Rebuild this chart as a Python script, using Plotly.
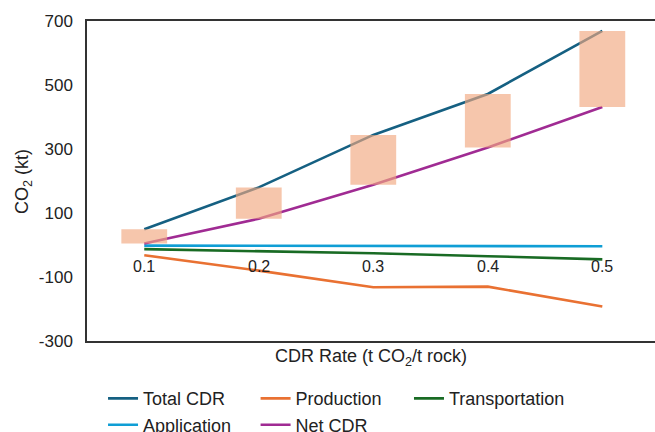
import plotly.graph_objects as go

categories = ["0.1", "0.2", "0.3", "0.4", "0.5"]
total_cdr = [49, 180, 344, 472, 669]
production = [-32, -80, -132, -130, -192]
transportation = [-13, -19, -26, -35, -45]
application = [-2, -3, -3, -4, -4]
net_cdr = [5, 82, 188, 305, 431]

y_ticks = [-300, -100, 100, 300, 500, 700]
y_tick_labels = ["-300", "-100", "100", "300", "500", "700"]

FONT = "Liberation Sans, Arial, sans-serif"
XR = [-0.5, 4.46]
YR = [-300, 700]

fig = go.Figure()

# (name, values, colour, legend column)
series = [
    ("Total CDR", total_cdr, "#156082", "legend"),
    ("Production", production, "#E97132", "legend2"),
    ("Transportation", transportation, "#196B24", "legend3"),
    ("Application", application, "#0F9ED5", "legend"),
    ("Net CDR", net_cdr, "#A02B93", "legend2"),
]
for name, vals, col, lg in series:
    fig.add_trace(go.Scatter(x=categories, y=vals, name=name, mode="lines",
                             line=dict(color=col, width=2.6), xaxis="x", yaxis="y",
                             legend=lg))

# floating range bars (Net CDR -> Total CDR), drawn on overlay axes so they sit above the lines
fig.add_trace(go.Bar(x=categories, base=net_cdr,
                     y=[t - n for t, n in zip(total_cdr, net_cdr)],
                     width=0.4, marker=dict(color="rgba(241,168,128,0.65)", line=dict(width=0)),
                     showlegend=False, xaxis="x2", yaxis="y2", hoverinfo="skip"))

# category labels sitting at the zero line
for i, c in enumerate(categories):
    fig.add_annotation(x=i, y=0, xref="x", yref="y", text=c, showarrow=False,
                       yshift=-21, font=dict(family=FONT, size=16, color="#222"))

fig.add_annotation(x=-0.1127, y=0.5, xref="paper", yref="paper", xanchor="center",
                   yanchor="middle",
                   text="CO<sub>2</sub> (kt)", textangle=-90, showarrow=False,
                   font=dict(family=FONT, size=18, color="#222"))

def legend_col(xpos):
    return dict(orientation="v", xref="container", yref="container",
                x=xpos, xanchor="left", y=0.12, yanchor="top",
                font=dict(family=FONT, size=18, color="#222"),
                traceorder="normal", bgcolor="rgba(0,0,0,0)")

fig.update_layout(
    width=655, height=432,
    margin=dict(l=87, r=0, t=21, b=91, autoexpand=False),
    paper_bgcolor="white", plot_bgcolor="white",
    font=dict(family=FONT, color="#222"),
    showlegend=True,
    legend=legend_col(0.1573),
    legend2=legend_col(0.3902),
    legend3=legend_col(0.6244),
    xaxis=dict(type="category", range=XR, showgrid=False, zeroline=False,
               showticklabels=False, ticks="", showline=True, linecolor="#333",
               linewidth=1.5, mirror=True,
               title=dict(text="CDR Rate (t CO<sub>2</sub>/t rock)",
                          font=dict(family=FONT, size=18, color="#222"), standoff=8)),
    yaxis=dict(range=YR, tickvals=y_ticks, ticktext=y_tick_labels, showgrid=False,
               zeroline=False, showline=True, linecolor="#333", linewidth=1.5,
               ticks="outside", ticklen=9, tickcolor="rgba(0,0,0,0)",
               tickfont=dict(family=FONT, size=17, color="#222")),
    xaxis2=dict(type="category", range=XR, overlaying="x", visible=False,
                categoryarray=categories),
    yaxis2=dict(range=YR, overlaying="y", visible=False),
)

fig.write_html("out.html", config={"displayModeBar": False},
               post_script="document.body.style.margin='0';")
